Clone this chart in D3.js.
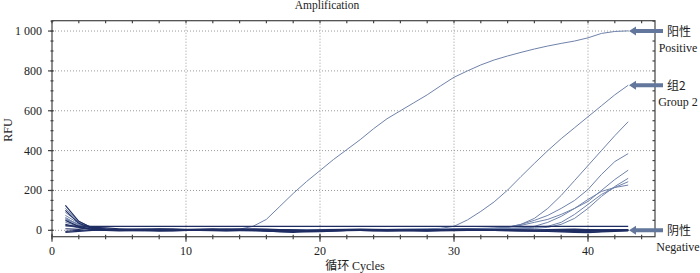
<!DOCTYPE html>
<html>
<head>
<meta charset="utf-8">
<script src="https://cdn.jsdelivr.net/npm/d3@7"></script>
<style>
  body { margin: 0; background: #fff; }
  text { font-family: "Liberation Serif", "Times New Roman", serif; fill: #222; }
  .cjk { font-family: "Noto Sans CJK SC", sans-serif; }
</style>
</head>
<body>
<script>
var cycles = d3.range(1, 44);
var xTicks = [0, 10, 20, 30, 40];
var yTicks = [0, 200, 400, 600, 800, 1000];
var yTickLabels = ['0', '200', '400', '600', '800', '1 000'];

// positive control
var positive = [60,30,10,5,3,2,2,3,2,1,2,3,4,6,20,55,120,185,245,300,355,405,455,510,560,600,640,680,725,768,800,830,855,875,893,910,925,938,950,966,988,998,1001];
// group 2 samples
var group2 = [
  [90,40,15,8,5,4,3,2,3,4,3,2,3,4,3,2,1,2,3,4,5,4,3,4,5,6,7,8,10,20,52,95,143,202,270,336,400,460,515,570,625,680,728],
  [110,45,12,6,4,2,0,-2,-1,0,1,2,0,-1,0,1,2,3,2,1,0,1,2,3,4,5,4,3,4,5,6,8,10,15,30,60,110,175,250,325,400,475,545],
  [75,35,10,5,3,2,1,0,1,2,1,0,-2,-3,-2,0,1,0,1,2,3,2,1,2,3,4,5,4,5,6,7,8,10,15,30,50,75,110,150,205,280,345,385],
  [55,30,8,4,2,1,0,1,2,1,0,-1,0,1,2,1,0,-1,0,1,2,3,4,3,2,3,4,5,6,7,8,10,12,15,25,40,55,80,110,145,200,255,302],
  [40,20,5,2,0,-2,-3,-1,0,1,2,1,0,-1,-2,-3,-4,-2,0,1,2,1,0,1,2,3,2,1,2,3,4,5,6,7,8,10,15,30,60,110,170,220,261],
  [25,12,3,1,0,1,2,3,2,1,0,-1,-2,-1,0,1,2,1,0,-1,0,1,2,3,4,3,2,3,4,5,6,7,8,10,12,15,20,40,80,130,180,215,244],
  [65,25,8,3,1,0,-1,0,1,2,3,2,1,0,-1,0,1,2,3,2,1,0,-1,0,1,2,3,4,5,6,7,8,9,10,12,20,40,70,110,155,195,215,227]
];
// negative controls
var negative = [
  [22,21,20,20,20,20,20,20,20,20,20,20,20,20,20,20,20,20,20,20,20,20,20,20,20,20,20,20,20,20,20,20,20,20,20,20,20,20,20,20,20,20,20],
  [-10,-5,0,2,1,0,-2,-4,-3,-1,0,2,3,1,0,-3,-8,-10,-6,-3,-2,-1,0,-2,-4,-3,0,2,3,2,1,0,-1,-2,-3,-4,-6,-8,-10,-12,-8,-5,-3],
  [30,15,5,2,4,6,5,3,2,4,6,7,5,3,1,-2,-5,-7,-5,-2,0,1,2,1,0,-1,0,1,3,4,3,2,1,0,-2,-3,-2,-1,0,-2,-1,0,1],
  [100,35,10,5,3,1,0,-1,-2,-1,0,1,2,3,4,2,0,-2,-4,-3,-1,0,2,4,3,1,0,-1,-2,-1,0,1,2,3,2,0,-2,-4,-5,-3,-1,0,1],
  [-5,0,2,3,2,4,5,6,4,2,1,3,5,4,2,0,-3,-6,-8,-7,-4,-2,-1,0,1,0,-2,-3,-1,1,2,3,4,2,0,-1,-3,-2,0,1,2,3,2],
  [125,45,12,6,4,3,2,1,0,2,4,3,1,-1,-2,-4,-6,-5,-3,-1,1,0,-1,-3,-2,0,2,1,-1,-2,0,2,3,1,-1,-2,-1,0,-2,-6,-3,0,2],
  [8,5,15,12,8,5,6,8,7,5,4,5,6,7,8,6,4,2,0,2,4,5,6,5,4,3,2,3,4,5,6,5,4,3,2,3,4,5,6,4,3,2,1],
  [50,20,4,0,-3,-2,0,1,3,2,0,-2,-3,-1,1,3,2,0,-1,-2,-3,-1,1,2,0,-2,-3,-4,-2,0,1,0,-1,-2,-3,-2,-1,-2,-4,-10,-6,-3,-1]
];
var notes = [
  {cn: '阳性', en: 'Positive', v: 1000},
  {cn: '组2', en: 'Group 2', v: 728},
  {cn: '阴性', en: 'Negative', v: 0}
];

var width = 700, height = 273;
var plotLeft = 52, plotRight = 655, plotTop = 20.7, plotBottom = 236.7;

var svg = d3.select('body').append('svg').attr('width', width).attr('height', height);

var x = d3.scaleLinear().domain([0, 45]).range([plotLeft, plotRight]);
var y = d3.scaleLinear().domain([-32, 1052]).range([plotBottom, plotTop]);

// grid
var grid = svg.append('g').attr('stroke', '#9a9a9a').attr('stroke-dasharray', '1,2').attr('stroke-width', 1);
grid.selectAll('line.gx').data(xTicks.slice(1)).enter().append('line')
  .attr('x1', function(d){ return x(d); }).attr('x2', function(d){ return x(d); })
  .attr('y1', plotTop).attr('y2', plotBottom);
grid.selectAll('line.gy').data(yTicks).enter().append('line')
  .attr('x1', plotLeft).attr('x2', plotRight)
  .attr('y1', function(d){ return y(d); }).attr('y2', function(d){ return y(d); });

// curves
var line = d3.line()
  .x(function(d, i){ return x(cycles[i]); })
  .y(function(d){ return y(d); });

svg.selectAll('path.g2').data(group2.concat([positive])).enter().append('path')
  .attr('fill', 'none').attr('stroke', '#6f82aa').attr('stroke-width', 1)
  .attr('d', line);
svg.selectAll('path.neg').data(negative).enter().append('path')
  .attr('fill', 'none').attr('stroke', '#1f2d63').attr('stroke-width', 1.2)
  .attr('d', line);

// frame + ticks
var frame = svg.append('g').attr('stroke', '#444').attr('stroke-width', 1.2);
frame.append('rect').attr('x', plotLeft).attr('y', plotTop)
  .attr('width', plotRight - plotLeft).attr('height', plotBottom - plotTop).attr('fill', 'none');

var minorX = d3.range(0, 45, 2);
var minorY = d3.range(0, 1051, 50);
frame.selectAll('line.bx').data(minorX).enter().append('line')
  .attr('x1', function(d){ return x(d); }).attr('x2', function(d){ return x(d); })
  .attr('y1', plotBottom - 2).attr('y2', plotBottom + 2.5);
frame.selectAll('line.bX').data(xTicks).enter().append('line')
  .attr('x1', function(d){ return x(d); }).attr('x2', function(d){ return x(d); })
  .attr('y1', plotBottom - 3).attr('y2', plotBottom + 5);
frame.selectAll('line.tx').data(minorX).enter().append('line')
  .attr('x1', function(d){ return x(d); }).attr('x2', function(d){ return x(d); })
  .attr('y1', plotTop).attr('y2', plotTop + 2.5);
frame.selectAll('line.ly').data(minorY).enter().append('line')
  .attr('x1', plotLeft - 1.5).attr('x2', plotLeft + 1.5)
  .attr('y1', function(d){ return y(d); }).attr('y2', function(d){ return y(d); });
frame.selectAll('line.lY').data(yTicks).enter().append('line')
  .attr('x1', plotLeft - 4).attr('x2', plotLeft + 1.5)
  .attr('y1', function(d){ return y(d); }).attr('y2', function(d){ return y(d); });
frame.selectAll('line.ry').data(minorY).enter().append('line')
  .attr('x1', plotRight - 2.5).attr('x2', plotRight)
  .attr('y1', function(d){ return y(d); }).attr('y2', function(d){ return y(d); });

svg.selectAll('text.xl').data(xTicks).enter().append('text')
  .attr('x', function(d){ return x(d); }).attr('y', 255)
  .attr('text-anchor', 'middle').attr('font-size', 12).text(function(d){ return d; });
svg.selectAll('text.yl').data(yTicks).enter().append('text')
  .attr('x', plotLeft - 10).attr('y', function(d){ return y(d) + 4; })
  .attr('text-anchor', 'end').attr('font-size', 12).text(function(d, i){ return yTickLabels[i]; });

svg.append('text').attr('x', 327).attr('y', 9).attr('text-anchor', 'middle').attr('font-size', 11.5).text('Amplification');
svg.append('text').attr('transform', 'translate(12,130) rotate(-90)').attr('text-anchor', 'middle').attr('font-size', 12).text('RFU');
var xl = svg.append('text').attr('x', 355).attr('y', 270).attr('text-anchor', 'middle').attr('font-size', 12);
xl.append('tspan').attr('class', 'cjk').text('循环 ');
xl.append('tspan').text('Cycles');

// arrows + notes
var ann = svg.selectAll('g.note').data(notes).enter().append('g')
  .attr('transform', function(d){ return 'translate(0,' + y(d.v) + ')'; });
ann.append('path').attr('fill', '#62779b')
  .attr('d', 'M629,0 L636,-4.5 L636,-2 L663,-2 L663,2 L636,2 L636,4.5 Z');
ann.append('text').attr('class', 'cjk').attr('x', 667).attr('y', 5).attr('font-size', 12).text(function(d){ return d.cn; });
ann.append('text').attr('x', 678).attr('y', 21).attr('text-anchor', 'middle').attr('font-size', 12).text(function(d){ return d.en; });
</script>
</body>
</html>
